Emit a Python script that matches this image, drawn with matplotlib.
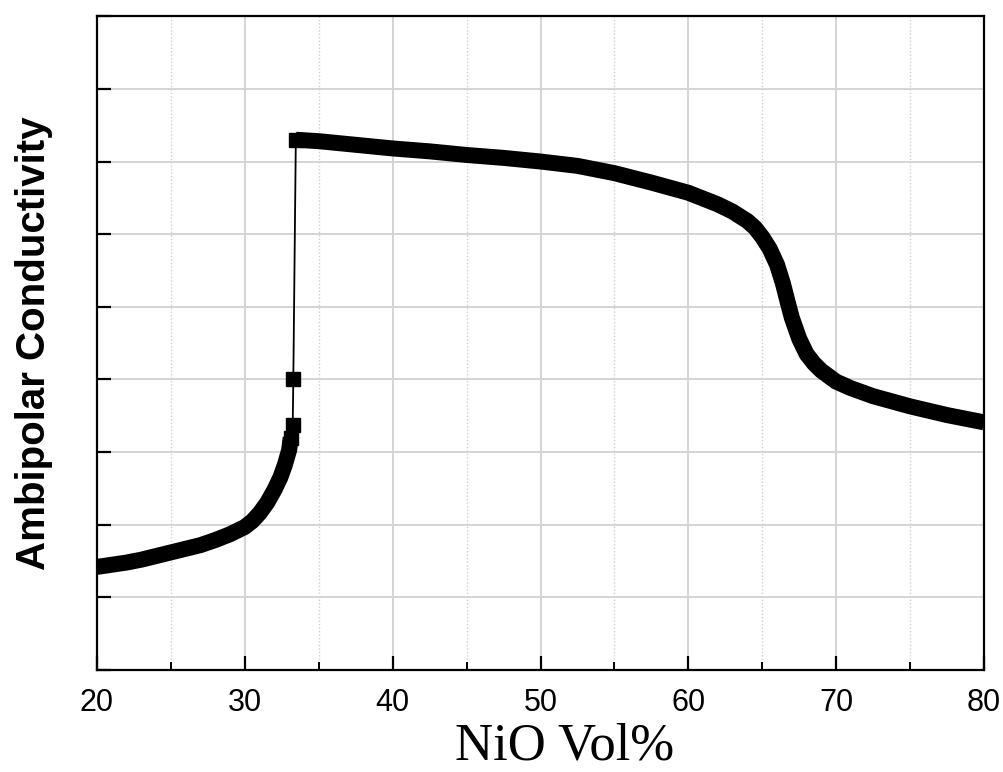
import matplotlib
matplotlib.use("Agg")
import matplotlib.pyplot as plt
from matplotlib.ticker import MultipleLocator, NullFormatter

# ---- data ----
low_x = [20.0, 21.0, 22.0, 23.0, 24.0, 25.0, 26.0, 27.0, 28.0, 29.0, 30.0,
         30.5, 31.0, 31.5, 32.0, 32.4, 32.7, 33.0, 33.1]
low_y = [1.42, 1.45, 1.48, 1.52, 1.57, 1.62, 1.67, 1.72, 1.79, 1.87, 1.97,
         2.05, 2.16, 2.30, 2.48, 2.65, 2.82, 3.03, 3.20]

jump_x = [33.24, 33.28]
jump_y = [3.38, 4.00]

high_x = [33.45, 35.0, 37.5, 40.0, 42.5, 45.0, 47.5, 50.0, 52.5, 55.0, 57.5,
          60.0, 61.0, 62.0, 63.0, 64.0, 64.5, 65.0, 65.5, 66.0, 66.4, 66.7,
          67.0, 67.5, 68.0, 68.5, 69.0, 70.0, 71.0, 72.5, 75.0, 77.5, 80.0]
high_y = [7.30, 7.28, 7.23, 7.18, 7.14, 7.09, 7.05, 7.00, 6.94, 6.84, 6.71,
          6.57, 6.49, 6.41, 6.31, 6.18, 6.09, 5.96, 5.80, 5.58, 5.32, 5.08,
          4.85, 4.56, 4.35, 4.22, 4.12, 3.97, 3.88, 3.77, 3.63, 3.51, 3.41]

x_ticks = [20, 30, 40, 50, 60, 70, 80]
x_tick_labels = ["20", "30", "40", "50", "60", "70", "80"]
y_ticks = [0, 1, 2, 3, 4, 5, 6, 7, 8, 9]

fig = plt.figure(figsize=(10.04, 7.72), dpi=100)
ax = fig.add_axes([0.0966, 0.132, 0.8835, 0.847])

# thin connector through all points
all_x = low_x + jump_x + high_x
all_y = low_y + jump_y + high_y
ax.plot(all_x, all_y, color="black", lw=1.3, zorder=3)

# thick dense-marker looking segments
for sx, sy in ((low_x, low_y), (high_x, high_y)):
    ax.plot(sx, sy, color="black", lw=11.5, solid_capstyle="butt",
            solid_joinstyle="round", zorder=4)

# square markers at the jump and segment ends
ax.plot(jump_x, jump_y, "s", color="black", ms=10, zorder=5)
ax.plot([low_x[-1], high_x[0]], [low_y[-1], high_y[0]], "s", color="black",
        ms=10.5, zorder=5)

ax.set_xlim(20, 80)
ax.set_ylim(0, 9)
ax.set_xticks(x_ticks)
ax.set_xticklabels(x_tick_labels)
ax.xaxis.set_minor_locator(MultipleLocator(5))
ax.set_yticks(y_ticks)
ax.yaxis.set_major_formatter(NullFormatter())

ax.grid(which="major", axis="both", color="#d4d4d4", lw=1.4, ls="-", zorder=0)
ax.grid(which="minor", axis="x", color="#cfcfcf", lw=1.0, ls=(0, (1, 1.5)), zorder=0)
ax.set_axisbelow(True)

ax.tick_params(axis="x", which="major", direction="in", length=10, width=1.6,
               pad=13, top=False)
ax.tick_params(axis="x", which="minor", direction="in", length=6, width=1.4, top=False)
ax.tick_params(axis="y", which="major", direction="in", length=10, width=1.6,
               right=False)
for lab in ax.get_xticklabels():
    lab.set_family(["Liberation Sans", "DejaVu Sans"])
    lab.set_fontsize(22)

for s in ax.spines.values():
    s.set_linewidth(1.6)

fig.text(565 / 1004, 0.016, "NiO Vol%", family=["Liberation Serif", "DejaVu Serif"],
         fontsize=38, ha="center", va="baseline")
ax.set_ylabel("Ambipolar Conductivity", family=["Liberation Sans", "DejaVu Sans"],
              fontsize=29, fontweight="bold", labelpad=28)

fig.savefig("out.png", dpi=100)
